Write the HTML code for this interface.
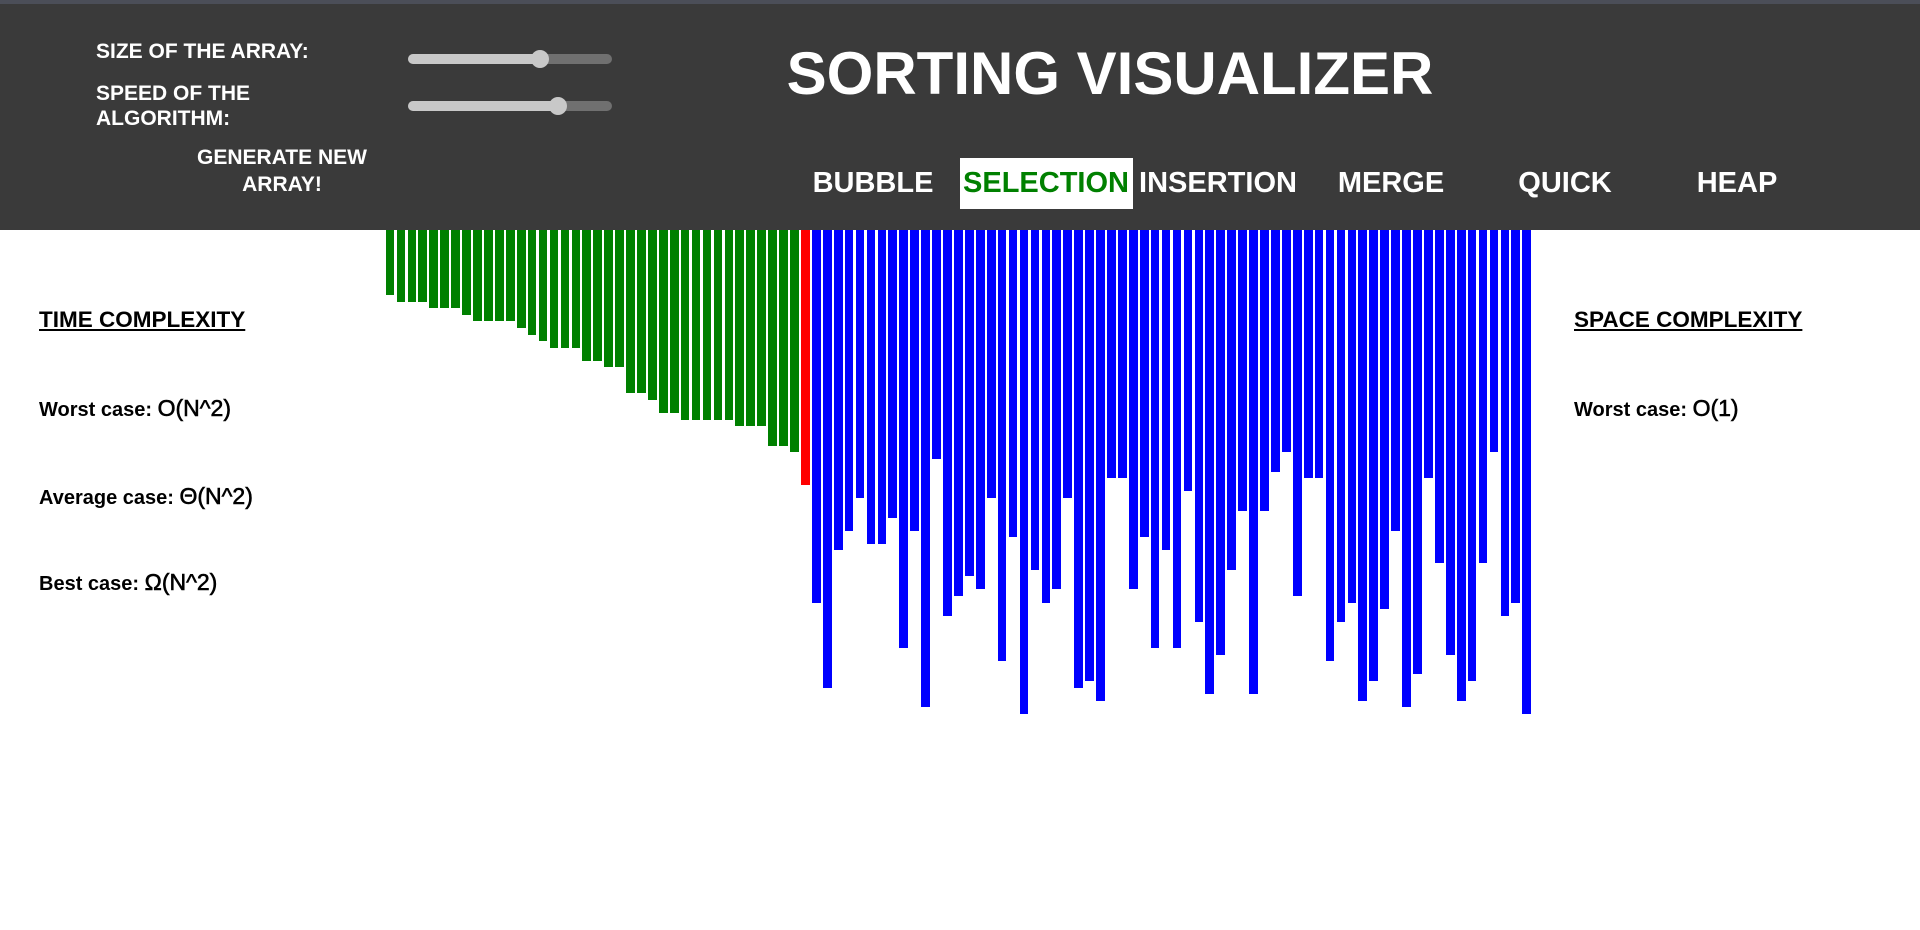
<!DOCTYPE html>
<html><head><meta charset="utf-8"><style>
*{margin:0;padding:0;box-sizing:border-box}
body{width:1920px;height:930px;overflow:hidden;background:#fff;font-family:"Liberation Sans",Arial,sans-serif;position:relative}
.abs{position:absolute;line-height:1;white-space:nowrap;font-weight:bold}
#header{position:absolute;left:0;top:0;width:1920px;height:230px;background:#3a3a3a;z-index:2}
#topline{position:absolute;left:0;top:0;width:1920px;height:4px;background:#4b4e58}
.w{color:#fff}
.track{position:absolute;height:10px;border-radius:5px;background:#707070}
.fill{position:absolute;left:0;top:0;height:10px;border-radius:5px;background:#c8c8c8}
.thumb{position:absolute;width:18px;height:18px;border-radius:9px;background:#c8c8c8;top:-4px}
.btn{position:absolute;top:169px;font-size:29px;color:#fff;font-weight:bold;line-height:1;transform:translateX(-50%)}
.cx{font-size:20px;color:#000}
.cx span{font-size:23px;font-weight:normal;-webkit-text-stroke:0.6px #000}
</style></head><body>
<div id="header">
<div id="topline"></div>
<div class="abs w" style="left:96px;top:41px;font-size:21px">SIZE OF THE ARRAY:</div>
<div class="abs w" style="left:96px;top:83px;font-size:21px">SPEED OF THE</div>
<div class="abs w" style="left:96px;top:108px;font-size:21px">ALGORITHM:</div>
<div class="abs w" style="left:282px;top:147px;font-size:21px;transform:translateX(-50%);text-align:center">GENERATE NEW</div>
<div class="abs w" style="left:282px;top:174px;font-size:21px;transform:translateX(-50%)">ARRAY!</div>
<div class="track" style="left:408px;top:54px;width:204px"><div class="fill" style="width:132px"></div><div class="thumb" style="left:123px"></div></div>
<div class="track" style="left:408px;top:101px;width:204px"><div class="fill" style="width:150px"></div><div class="thumb" style="left:141px"></div></div>
<div class="abs w" style="left:1110px;top:44px;font-size:60px;transform:translateX(-50%)">SORTING VISUALIZER</div>
<div class="btn" style="left:873px">BUBBLE</div>
<div style="position:absolute;left:960px;top:158px;width:173px;height:51px;background:#fff"></div>
<div class="btn" style="left:1046px;color:#008000">SELECTION</div>
<div class="btn" style="left:1218px">INSERTION</div>
<div class="btn" style="left:1391px">MERGE</div>
<div class="btn" style="left:1565px">QUICK</div>
<div class="btn" style="left:1737px">HEAP</div>
</div>

<div class="abs" style="left:39px;top:309px;font-size:22.5px;text-decoration:underline">TIME COMPLEXITY</div>
<div class="abs cx" style="left:39px;top:397px">Worst case: <span>O(N^2)</span></div>
<div class="abs cx" style="left:39px;top:485px">Average case: <span>Θ(N^2)</span></div>
<div class="abs cx" style="left:39px;top:571px">Best case: <span>Ω(N^2)</span></div>
<div class="abs" style="left:1574px;top:309px;font-size:22.5px;text-decoration:underline">SPACE COMPLEXITY</div>
<div class="abs cx" style="left:1574px;top:397px">Worst case: <span>O(1)</span></div>

<div id="bars" style="position:absolute;left:0;top:0;width:1920px;height:930px;z-index:1"></div>
<script>
const sortedValues=[65,72,72,72,78,78,78,85,91,91,91,91,98,105,111,118,118,118,131,131,137,137,163,163,170,183,183,190,190,190,190,190,196,196,196,216,216,222];
const currentValue=[255];
const unsortedValues=[373,458,320,301,268,314,314,288,418,301,477,229,386,
366,346,359,268,431,307,484,340,373,359,268,458,451,471,248,248,359,307,418,320,418,261,392,464,425,340,281,464,281,242,222,366,248,248,431,392,373,471,451,379,301,477,444,248,333,425,471,451,333,222,386,373,484];
const values=sortedValues.concat(currentValue,unsortedValues);
const x0=385.7, pitch=10.93, bw=8.7, barTop=230, scale=1;
function xPos(i){return x0+i*pitch;}
function hLen(v){return v*scale;}
const area=document.getElementById('bars');
values.forEach(function(v,i){
  const d=document.createElement('div');
  
  
  let c='#0000ff';
  if(i<sortedValues.length)c='#008000';else if(i===sortedValues.length)c='#ff0000';
  d.style.cssText='position:absolute;left:'+xPos(i)+'px;top:'+barTop+'px;width:'+bw+'px;height:'+hLen(v)+'px;background:'+c;
  area.appendChild(d);
});
</script>
</body></html>
